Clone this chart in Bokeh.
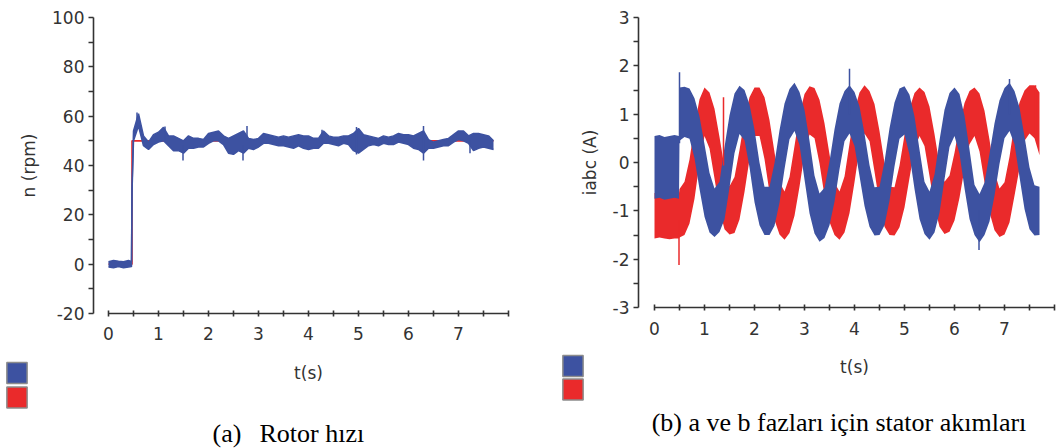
from bokeh.plotting import figure
from bokeh.layouts import row
from bokeh.models import FixedTicker, Label, Range1d
from bokeh.embed import file_html
from bokeh.resources import INLINE

# ---------------- data ----------------
# (a) rotor speed
t_ref = [0.0, 0.47, 0.47, 7.7]
n_ref = [0, 0, 50, 50]

t_speed = [0.0, 0.1, 0.2, 0.3, 0.4, 0.46, 0.47, 0.5, 0.6, 0.7, 0.8, 0.9,
           1.0, 1.1, 1.2, 1.3, 1.4, 1.5, 1.6, 1.7, 1.8, 1.9,
           2.0, 2.1, 2.2, 2.3, 2.4, 2.5, 2.6, 2.7, 2.8, 2.9,
           3.0, 3.1, 3.2, 3.3, 3.4, 3.5, 3.6, 3.7, 3.8, 3.9,
           4.0, 4.1, 4.2, 4.3, 4.4, 4.5, 4.6, 4.7, 4.8, 4.9,
           5.0, 5.1, 5.2, 5.3, 5.4, 5.5, 5.6, 5.7, 5.8, 5.9,
           6.0, 6.1, 6.2, 6.3, 6.4, 6.5, 6.6, 6.7, 6.8, 6.9,
           7.0, 7.1, 7.2, 7.3, 7.4, 7.5, 7.6, 7.7]
n_lo = [-1.2, -1.5, -1.0, -1.5, -1.2, -1.0, 29, 50, 56, 48, 46.5, 48.5,
        49.5, 50, 48, 46, 46, 45, 47, 47, 47.5, 47.5,
        49, 50, 50, 48.5, 45, 44.5, 46, 45, 47, 46.5,
        47.5, 49, 49, 48.5, 48, 48, 47.5, 47, 48, 47,
        46.5, 47, 47, 49, 49, 48.5, 48, 49, 48.5, 46,
        45, 46.5, 48, 48.5, 48, 49, 48.5, 48.5, 49.5, 49,
        48.5, 47, 46.5, 45, 47, 47, 47.5, 48, 48, 49.5,
        50.5, 50, 49, 46, 47, 47.5, 47, 46.5]
n_hi = [1.0, 1.5, 1.2, 1.0, 1.5, 1.0, 31, 54, 61, 52, 49.5, 52.5,
        53.5, 55.5, 52, 52, 51, 50, 52, 51, 51, 50.5,
        53, 53.5, 54, 52, 51, 52, 53, 54, 51, 50.5,
        51, 53, 52.5, 52, 51.5, 52, 51.5, 52, 52.5, 52,
        52, 51, 51, 54, 52, 51.5, 51.5, 52, 52, 53,
        55, 52.5, 52, 51.5, 51, 52, 51.5, 52, 53, 52.5,
        52.5, 52, 53, 54, 50.5, 49.5, 50, 50.5, 51, 52.5,
        54, 54, 52, 53, 53, 52.5, 52, 50]
n_spike_t = [0.57, 1.13, 1.49, 2.69, 2.77, 4.27, 4.96, 6.3, 7.23]
n_spike_lo = [55, 50, 42, 42, 50, 50, 44.5, 42, 45]
n_spike_hi = [61.5, 55.8, 48, 48, 56, 54.5, 55.6, 56, 50]

# (b) stator currents, phases a (blue) and b (red): band centre and half-width
t_cur = [0.0, 0.1, 0.2, 0.3, 0.4, 0.49, 0.5, 0.6, 0.7, 0.8, 0.9,
         1.0, 1.1, 1.2, 1.3, 1.4, 1.5, 1.6, 1.7, 1.8, 1.9,
         2.0, 2.1, 2.2, 2.3, 2.4, 2.5, 2.6, 2.7, 2.8, 2.9,
         3.0, 3.1, 3.2, 3.3, 3.4, 3.5, 3.6, 3.7, 3.8, 3.9,
         4.0, 4.1, 4.2, 4.3, 4.4, 4.5, 4.6, 4.7, 4.8, 4.9,
         5.0, 5.1, 5.2, 5.3, 5.4, 5.5, 5.6, 5.7, 5.8, 5.9,
         6.0, 6.1, 6.2, 6.3, 6.4, 6.5, 6.6, 6.7, 6.8, 6.9,
         7.0, 7.1, 7.2, 7.3, 7.4, 7.5, 7.6, 7.7]
ia_mid = [-0.1, -0.08, -0.12, -0.1, -0.08, -0.1, 1.0, 1.05, 1.01, 0.71, 0.20,
          -0.37, -0.83, -1.04, -0.92, -0.43, 0.23, 0.81, 1.09, 0.98, 0.55,
          -0.07, -0.65, -1.0, -1.0, -0.66, -0.08, 0.54, 1.0, 1.15, 0.91,
          0.37, -0.30, -0.87, -1.14, -1.04, -0.64, -0.06, 0.54, 0.96, 1.1,
          0.9, 0.44, -0.15, -0.69, -1.01, -1.0, -0.64, -0.04, 0.58, 1.01,
          1.08, 0.78, 0.2, -0.45, -0.94, -1.1, -0.85, -0.29, 0.37, 0.88,
          1.05, 0.80, 0.22, -0.45, -0.98, -1.15, -0.96, -0.52, 0.06, 0.63,
          1.02, 1.15, 0.93, 0.42, -0.21, -0.74, -0.99, -1.0]
ia_spread = [0.65, 0.65, 0.65, 0.65, 0.65, 0.65, 0.55, 0.52, 0.52, 0.62, 0.75,
             0.75, 0.62, 0.5, 0.52, 0.75, 0.75, 0.62, 0.5, 0.52, 0.65,
             0.75, 0.65, 0.5, 0.5, 0.65, 0.75, 0.68, 0.52, 0.5, 0.55,
             0.72, 0.75, 0.6, 0.5, 0.52, 0.66, 0.75, 0.68, 0.52, 0.5,
             0.56, 0.72, 0.75, 0.64, 0.5, 0.5, 0.66, 0.75, 0.66, 0.52,
             0.5, 0.62, 0.75, 0.72, 0.54, 0.5, 0.6, 0.75, 0.72, 0.56,
             0.5, 0.62, 0.75, 0.72, 0.52, 0.5, 0.54, 0.7, 0.75, 0.66,
             0.52, 0.5, 0.55, 0.72, 0.75, 0.64, 0.52, 0.5]
ib_mid = [-1.1, -1.08, -1.1, -1.12, -1.1, -1.1, -1.05, -0.95, -0.6, 0.0, 0.65,
          1.05, 0.87, 0.39, -0.22, -0.74, -0.99, -0.88, -0.46, 0.14, 0.71,
          1.05, 1.05, 0.71, 0.13, -0.49, -0.95, -1.1, -0.88, -0.38, 0.25,
          0.8, 1.08, 1.02, 0.64, 0.06, -0.53, -0.96, -1.1, -0.87, -0.33,
          0.33, 0.87, 1.1, 0.96, 0.51, -0.10, -0.67, -1.0, -1.01, -0.70,
          -0.18, 0.40, 0.86, 1.05, 0.90, 0.44, -0.16, -0.69, -0.94, -0.85,
          -0.50, 0.02, 0.55, 0.93, 1.05, 0.83, 0.33, -0.28, -0.80, -1.04,
          -0.95, -0.56, 0.06, 0.56, 0.97, 1.1, 1.05, 0.8]
ib_spread = [0.47, 0.47, 0.47, 0.47, 0.47, 0.47, 0.5, 0.55, 0.66, 0.75, 0.66,
             0.5, 0.58, 0.72, 0.75, 0.64, 0.5, 0.58, 0.72, 0.75, 0.64,
             0.5, 0.5, 0.64, 0.75, 0.7, 0.54, 0.5, 0.58, 0.72, 0.75,
             0.62, 0.5, 0.52, 0.66, 0.75, 0.7, 0.54, 0.5, 0.58, 0.72,
             0.74, 0.58, 0.5, 0.52, 0.7, 0.75, 0.66, 0.5, 0.5, 0.64,
             0.75, 0.72, 0.58, 0.5, 0.56, 0.72, 0.75, 0.64, 0.54, 0.58,
             0.7, 0.75, 0.68, 0.55, 0.5, 0.6, 0.74, 0.75, 0.6, 0.5,
             0.54, 0.68, 0.75, 0.68, 0.52, 0.5, 0.55, 0.65]
ia_spike_t = [0.5, 3.9, 6.49, 7.1]
ia_spike_lo = [0.4, 1.0, -1.81, 1.0]
ia_spike_hi = [1.87, 1.94, -1.0, 1.73]
ib_spike_t = [0.49, 1.38, 7.62]
ib_spike_lo = [-2.12, -0.06, 0.5]
ib_spike_hi = [-1.2, 1.35, 1.6]

# ticks
x_major = [0, 1, 2, 3, 4, 5, 6, 7]
x_minor = [0.5, 1.5, 2.5, 3.5, 4.5, 5.5, 6.5, 7.5, 8]
n_major = [-20, 0, 20, 40, 60, 80, 100]
n_minor = [-10, 10, 30, 50, 70, 90]
i_major = [-3, -2, -1, 0, 1, 2, 3]
i_minor = [-2.5, -1.5, -0.5, 0.5, 1.5, 2.5]

captions = [["(a)", "Rotor hızı"], ["(b) a ve b fazları için stator akımları"]]

BLUE = "#3d52a1"
RED = "#ea2a2b"
AX = "#333333"
SANS = "DejaVu Sans"
SERIF = "Liberation Serif"


def style(p, ymaj, ymin, ybounds, ylabel, x_at, y_at):
    p.outline_line_color = None
    p.xgrid.visible = False
    p.ygrid.visible = False
    xa = p.xaxis[0]
    ya = p.yaxis[0]
    xa.fixed_location = x_at
    ya.fixed_location = y_at
    xa.ticker = FixedTicker(ticks=x_major, minor_ticks=x_minor)
    ya.ticker = FixedTicker(ticks=ymaj, minor_ticks=ymin)
    ya.major_label_overrides = {v: str(v) for v in ymaj}
    xa.bounds = (0, 8)
    ya.bounds = ybounds
    for a in (xa, ya):
        a.axis_line_color = AX
        a.axis_line_width = 1.6
        a.major_tick_line_color = AX
        a.minor_tick_line_color = AX
        a.major_tick_line_width = 1.6
        a.minor_tick_line_width = 1.6
        a.major_label_text_font = SANS
        a.major_label_text_font_size = "17px"
        a.major_label_text_color = AX
        a.axis_label_text_font = SANS
        a.axis_label_text_font_size = "17px"
        a.axis_label_text_font_style = "normal"
        a.axis_label_text_color = AX
    xa.major_tick_in = 3
    xa.major_tick_out = 3
    xa.minor_tick_in = 3
    xa.minor_tick_out = 3
    ya.major_tick_in = 0
    ya.major_tick_out = 5
    ya.minor_tick_in = 0
    ya.minor_tick_out = 5
    xa.major_label_standoff = 11
    ya.major_label_standoff = 4
    xa.axis_label = "t(s)"
    ya.axis_label = ylabel
    xa.axis_label_standoff = 19
    ya.axis_label_standoff = 10


def square(p, cx, cy, color):
    p.add_layout(Label(x=cx, y=cy, x_units="canvas", y_units="canvas", text=" ",
                       text_font_size="1px", text_align="center", text_baseline="middle",
                       padding=10, background_fill_color=color, background_fill_alpha=1.0,
                       border_line_color="#8c8c8c", border_line_width=1.5))


def caption(p, x, y, text, align):
    p.add_layout(Label(x=x, y=y, x_units="canvas", y_units="canvas", text=text,
                       text_font=SERIF, text_font_size="26px", text_color="black",
                       text_align=align, text_baseline="middle"))


# The frame fills the whole canvas; the axes sit at fixed data locations inside it,
# so that the legend squares and captions (drawn in canvas units) stay visible.
# ---------------- (a) rotor speed ----------------
p1 = figure(width=530, height=448, x_range=Range1d(-2.16, 8.44), y_range=Range1d(-74.73, 106.89),
            min_border=0, toolbar_location=None, output_backend="svg")
style(p1, n_major, n_minor, (-20, 100), "n (rpm)", -20, -0.3)
p1.line(t_ref, n_ref, line_color=RED, line_width=1.6)
p1.varea(x=t_speed, y1=n_lo, y2=n_hi, fill_color=BLUE)
p1.line(t_speed, n_lo, line_color=BLUE, line_width=1.5)
p1.line(t_speed, n_hi, line_color=BLUE, line_width=1.5)
p1.segment(x0=n_spike_t, y0=n_spike_lo, x1=n_spike_t, y1=n_spike_hi, line_color=BLUE, line_width=1.5)
square(p1, 16.5, 372.5, BLUE)
square(p1, 16.5, 397, RED)
caption(p1, 212, 433, captions[0][0], "left")
caption(p1, 259, 433, captions[0][1], "left")

# ---------------- (b) stator currents ----------------
p2 = figure(width=526, height=448, x_range=Range1d(-2.48, 8.04), y_range=Range1d(-5.917, 3.352),
            min_border=0, toolbar_location=None, output_backend="svg")
style(p2, i_major, i_minor, (-3, 3), "iabc (A)", -3, -0.32)
ib_lo = [m - s for m, s in zip(ib_mid, ib_spread)]
ib_hi = [m + s for m, s in zip(ib_mid, ib_spread)]
ia_lo = [m - s for m, s in zip(ia_mid, ia_spread)]
ia_hi = [m + s for m, s in zip(ia_mid, ia_spread)]
p2.varea(x=t_cur, y1=ib_lo, y2=ib_hi, fill_color=RED)
p2.varea(x=t_cur, y1=ia_lo, y2=ia_hi, fill_color=BLUE)
p2.segment(x0=ia_spike_t, y0=ia_spike_lo, x1=ia_spike_t, y1=ia_spike_hi, line_color=BLUE, line_width=1.5)
p2.segment(x0=ib_spike_t, y0=ib_spike_lo, x1=ib_spike_t, y1=ib_spike_hi, line_color=RED, line_width=1.5)
square(p2, 42.5, 365.5, BLUE)
square(p2, 42.5, 389, RED)
caption(p2, 308.5, 422, captions[1][0], "center")

layout = row(p1, p2)
open("out.html", "w").write(file_html(layout, INLINE))
